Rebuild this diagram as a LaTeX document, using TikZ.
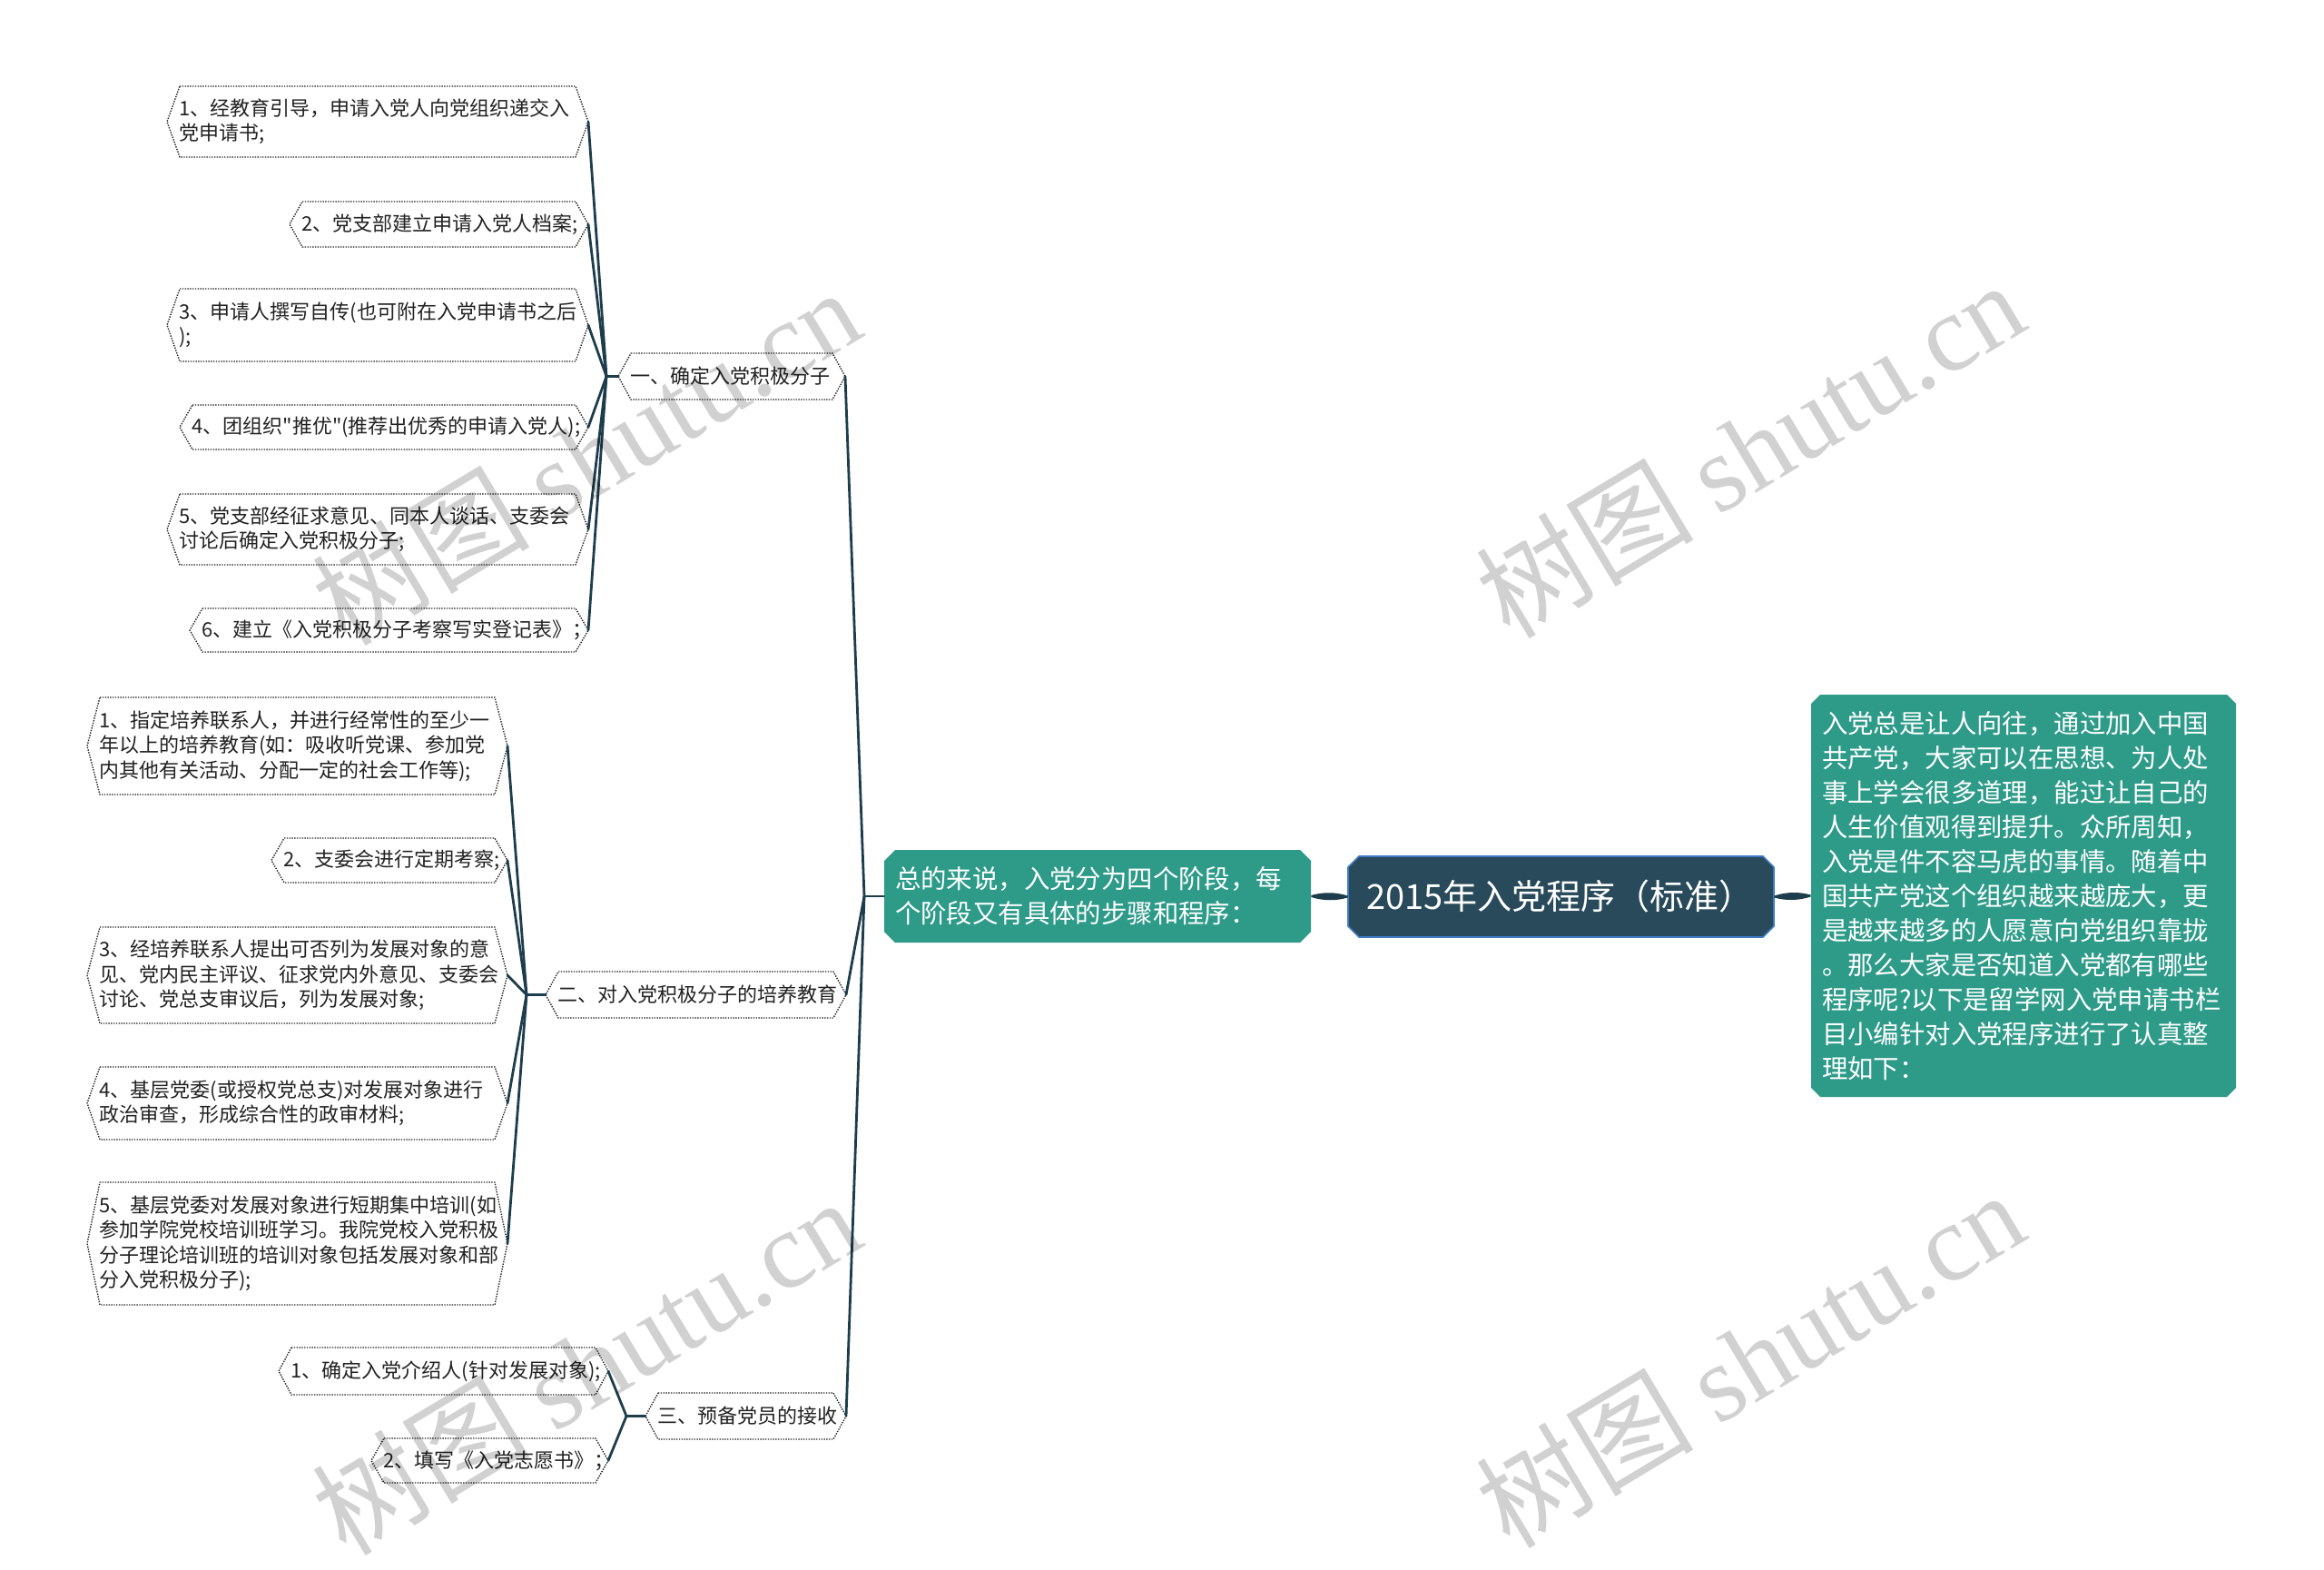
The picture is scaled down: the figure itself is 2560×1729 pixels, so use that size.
\documentclass[tikz,border=0pt]{standalone}
\usepackage{fontspec}
\setmainfont{Noto Sans CJK SC}[Ligatures=TeXOff]
\newfontfamily\wmserif{Liberation Serif}
\usetikzlibrary{calc}
\definecolor{connc}{HTML}{1E3D4C}
\definecolor{rootfill}{HTML}{284A5A}
\definecolor{rootline}{HTML}{3F7BC6}
\definecolor{tealbox}{HTML}{2E9B89}
\definecolor{leafline}{HTML}{262626}
\definecolor{leaftextc}{HTML}{222222}

\newcommand\leafnode[6]{%
  \draw[leafborder] ({#2},{#4}) -- ({#3},{#4}) -- ({#3+14},{(#4+#5)/2}) -- ({#3},{#5}) -- ({#2},{#5}) -- ({#2-14},{(#4+#5)/2}) -- cycle;
  \node[leaftxt, anchor=west] (#1) at ({#2-1},{(#4+#5)/2}) {#6};
  \coordinate (#1R) at ({#3+14},{(#4+#5)/2});
  \coordinate (#1L) at ({#2-14},{(#4+#5)/2});
}
\newcommand\chamfill[6]{%
  \path[#1] ({#2+#6},{#4}) -- ({#3-#6},{#4}) -- ({#3},{#4+#6}) -- ({#3},{#5-#6}) -- ({#3-#6},{#5}) -- ({#2+#6},{#5}) -- ({#2},{#5-#6}) -- ({#2},{#4+#6}) -- cycle;
}

\begin{document}
\begin{tikzpicture}[x=0.5pt,y=-0.5pt,
  connline/.style={draw=connc, line width=1.4pt, line cap=round},
  leafborder/.style={draw=leafline, line width=0.7pt, dash pattern=on 0.7pt off 0.7pt, fill=white},
  leaftxt/.style={font=\fontsize{11pt}{13.7pt}\selectfont, text=leaftextc, align=left, inner sep=0pt},
  bigtxt/.style={font=\fontsize{14.2pt}{19pt}\selectfont, text=white, align=left, inner ysep=0pt},
  wm/.style={rotate=31, text=black, text opacity=0.18, font=\fontsize{60pt}{60pt}\selectfont, inner sep=0pt}
]
\fill[white] (0,0) rectangle (2560,1729);
\useasboundingbox (0,0) rectangle (2560,1729);

% ---- junctions
\coordinate (J0) at (952,987);
\coordinate (J1) at (668,414.5);
\coordinate (J2) at (580,1095.5);
\coordinate (J3) at (690,1559.5);

% ---- group one leaves
\leafnode{La}{198}{634}{95}{173}{1、经教育引导，申请入党人向党组织递交入\\党申请书;}
\leafnode{Lb}{333}{634}{222}{272}{2、党支部建立申请入党人档案;}
\leafnode{Lc}{198}{634}{318}{398}{3、申请人撰写自传(也可附在入党申请书之后\\);}
\leafnode{Ld}{212}{634}{446}{495}{4、团组织"推优"(推荐出优秀的申请入党人);}
\leafnode{Le}{198}{634}{544}{622}{5、党支部经征求意见、同本人谈话、支委会\\讨论后确定入党积极分子;}
\leafnode{Lf}{223}{634}{670}{718}{6、建立《入党积极分子考察写实登记表》；}

% ---- group two leaves
\leafnode{Ma}{110}{545}{768}{875}{1、指定培养联系人，并进行经常性的至少一\\年以上的培养教育(如：吸收听党课、参加党\\内其他有关活动、分配一定的社会工作等);}
\leafnode{Mb}{313}{545}{923}{972}{2、支委会进行定期考察;}
\leafnode{Mc}{110}{545}{1021}{1127}{3、经培养联系人提出可否列为发展对象的意\\见、党内民主评议、征求党内外意见、支委会\\讨论、党总支审议后，列为发展对象;}
\leafnode{Md}{110}{545}{1175}{1255}{4、基层党委(或授权党总支)对发展对象进行\\政治审查，形成综合性的政审材料;}
\leafnode{Me}{110}{545}{1302}{1437}{5、基层党委对发展对象进行短期集中培训(如\\参加学院党校培训班学习。我院党校入党积极\\分子理论培训班的培训对象包括发展对象和部\\分入党积极分子);}

% ---- group three leaves
\leafnode{Na}{321}{656}{1484}{1536}{1、确定入党介绍人(针对发展对象);}
\leafnode{Nb}{423}{656}{1584}{1633}{2、填写《入党志愿书》；}

% ---- branches
\leafnode{Ba}{695}{917}{389}{440}{一、确定入党积极分子}
\leafnode{Bb}{615}{918}{1070}{1121}{二、对入党积极分子的培养教育}
\leafnode{Bc}{725}{918}{1534}{1585}{三、预备党员的接收}

% ---- central nodes
\chamfill{fill=tealbox}{974}{1444}{936}{1038}{12}
\node[bigtxt, minimum width=235pt, minimum height=51pt, text width=223pt, inner xsep=6pt] (C) at (1209,987) {总的来说，入党分为四个阶段，每\\个阶段又有具体的步骤和程序：};

\chamfill{fill=rootfill, draw=rootline, line width=0.8pt}{1485}{1954}{943}{1032}{12}
\node[font=\fontsize{19pt}{22pt}\selectfont, text=white, minimum width=234.5pt, minimum height=44.5pt, inner sep=0pt] (Root) at (1719.5,987.5) {2015年入党程序（标准）\kern1pt};

\chamfill{fill=tealbox}{1995}{2463}{765}{1208}{10}
\node[bigtxt, minimum width=234pt, minimum height=221.5pt, text width=222pt, inner xsep=6pt] (Rn) at (2229,986.5) {入党总是让人向往，通过加入中国\\共产党，大家可以在思想、为人处\\事上学会很多道理，能过让自己的\\人生价值观得到提升。众所周知，\\入党是件不容马虎的事情。随着中\\国共产党这个组织越来越庞大，更\\是越来越多的人愿意向党组织靠拢\\。那么大家是否知道入党都有哪些\\程序呢?以下是留学网入党申请书栏\\目小编针对入党程序进行了认真整\\理如下：};

% ---- spindle connectors
\fill[connc] ($(C.east)+(0,-1)$) .. controls ($(C.east)!0.33!(Root.west)+(0,-5)$) and ($(C.east)!0.67!(Root.west)+(0,-5)$) .. ($(Root.west)+(0,-1)$) -- ($(Root.west)+(0,1)$) .. controls ($(C.east)!0.67!(Root.west)+(0,5)$) and ($(C.east)!0.33!(Root.west)+(0,5)$) .. ($(C.east)+(0,1)$) -- cycle;
\fill[connc] ($(Root.east)+(0,-1)$) .. controls ($(Root.east)!0.33!(Rn.west)+(0,-5)$) and ($(Root.east)!0.67!(Rn.west)+(0,-5)$) .. ($(Rn.west)+(0,-1)$) -- ($(Rn.west)+(0,1)$) .. controls ($(Root.east)!0.67!(Rn.west)+(0,5)$) and ($(Root.east)!0.33!(Rn.west)+(0,5)$) .. ($(Root.east)+(0,1)$) -- cycle;

% ---- connectors
\draw[connline] (J0) -- (C.west);
\draw[connline] (J0) -- (BaR);
\draw[connline] (J0) -- (BbR);
\draw[connline] (J0) -- (BcR);

\draw[connline] (J1) -- (BaL);
\foreach \n in {La,Lb,Lc,Ld,Le,Lf} \draw[connline] (J1) -- (\n R);
\draw[connline] (J2) -- (BbL);
\foreach \n in {Ma,Mb,Mc,Md,Me} \draw[connline] (J2) -- (\n R);
\draw[connline] (J3) -- (BcL);
\foreach \n in {Na,Nb} \draw[connline] (J3) -- (\n R);

% ---- watermarks
\node[wm] (w1) at (645,502) {树图 {\wmserif shutu.cn}};
\node[wm] (w2) at (1927,494) {树图 {\wmserif shutu.cn}};
\node[wm] (w3) at (645,1504) {树图 {\wmserif shutu.cn}};
\node[wm] (w4) at (1927,1496) {树图 {\wmserif shutu.cn}};
\end{tikzpicture}
\end{document}
